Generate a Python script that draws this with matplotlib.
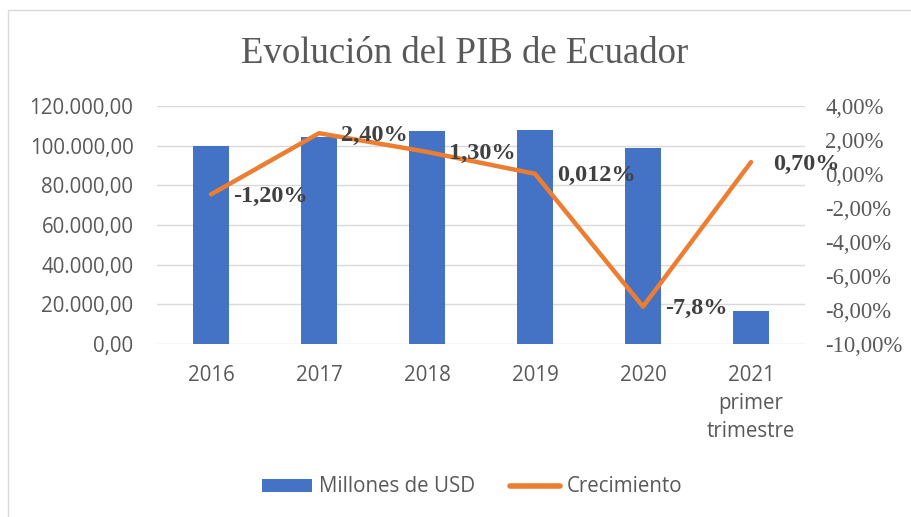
import matplotlib
matplotlib.use("Agg")
import matplotlib.pyplot as plt
from matplotlib.patches import Rectangle
from matplotlib.lines import Line2D
from matplotlib.patches import Patch

categories = ["2016", "2017", "2018", "2019", "2020", "2021\nprimer\ntrimestre"]
pib_millones = [99900, 104500, 107500, 107900, 98700, 16600]
crecimiento = [-1.20, 2.40, 1.30, 0.012, -7.8, 0.70]
crec_labels = ["-1,20%", "2,40%", "1,30%", "0,012%", "-7,8%", "0,70%"]
left_ticks = [0, 20000, 40000, 60000, 80000, 100000, 120000]
left_tick_labels = ["0,00", "20.000,00", "40.000,00", "60.000,00", "80.000,00", "100.000,00", "120.000,00"]
right_ticks = [-10, -8, -6, -4, -2, 0, 2, 4]
right_tick_labels = ["-10,00%", "-8,00%", "-6,00%", "-4,00%", "-2,00%", "0,00%", "2,00%", "4,00%"]

BLUE = "#4472C4"
ORANGE = "#ED7D31"
GRAY = "#595959"
SANS = "Open Sans"
SERIF = "Liberation Serif"

fig = plt.figure(figsize=(9.12, 5.17), dpi=100)
fig.patches.append(Rectangle((8/912, -0.01), 1.0, 1 - 10/517 + 0.01, transform=fig.transFigure,
                             fill=False, edgecolor="#d9d9d9", linewidth=1.0))

ax = fig.add_axes([157/912, 1 - 344/517, (805-157)/912, (344-106)/517])
x = list(range(len(categories)))
ax.bar(x, pib_millones, width=0.33, color=BLUE, zorder=2)
ax.set_ylim(0, 120000)
ax.set_xlim(-0.5, len(categories) - 0.5)
ax.set_yticks(left_ticks)
ax.set_yticklabels(left_tick_labels, fontfamily=SANS, fontsize=14.8, color=GRAY)
ax.set_xticks(x)
ax.set_xticklabels(categories, fontfamily=SANS, fontsize=14.8, color=GRAY, linespacing=1.45)
ax.tick_params(axis="both", length=0)
ax.tick_params(axis="y", pad=17)
ax.tick_params(axis="x", pad=15)
ax.grid(axis="y", color="#d9d9d9", linewidth=1.0, zorder=0)
ax.set_axisbelow(True)
for s in ax.spines.values():
    s.set_visible(False)

ax2 = ax.twinx()
ax2.plot(x, crecimiento, color=ORANGE, linewidth=3.2, solid_capstyle="round", zorder=3)
ax2.set_ylim(-10, 4)
ax2.set_yticks(right_ticks)
ax2.set_yticklabels(right_tick_labels, fontfamily=SERIF, fontsize=16.3, color=GRAY)
ax2.tick_params(axis="y", length=0, pad=14.5)
for s in ax2.spines.values():
    s.set_visible(False)

for xi, v, lab in zip(x, crecimiento, crec_labels):
    ax2.annotate(lab, (xi, v), xytext=(22, -2), textcoords="offset pixels",
                 ha="left", va="center", fontfamily=SERIF, fontweight="bold",
                 fontsize=17.5, color="#404040", zorder=4)

fig.text(465/912, 1 - 54/517, "Evolución del PIB de Ecuador", ha="center", va="center",
         fontfamily=SERIF, fontsize=26.5, color=GRAY)

handles = [Patch(facecolor=BLUE, edgecolor="none"),
           Line2D([0], [0], color=ORANGE, linewidth=4.0, solid_capstyle="round")]
leg = fig.legend(handles, ["Millones de USD", "Crecimiento"], loc="center", bbox_to_anchor=(472/912, 1 - 487/517),
                 ncol=2, frameon=False, prop={"family": SANS, "size": 14.8},
                 handlelength=2.45, handleheight=0.6, handletextpad=0.3, columnspacing=1.7)
for t in leg.get_texts():
    t.set_color(GRAY)

fig.savefig("out.png", dpi=100)
